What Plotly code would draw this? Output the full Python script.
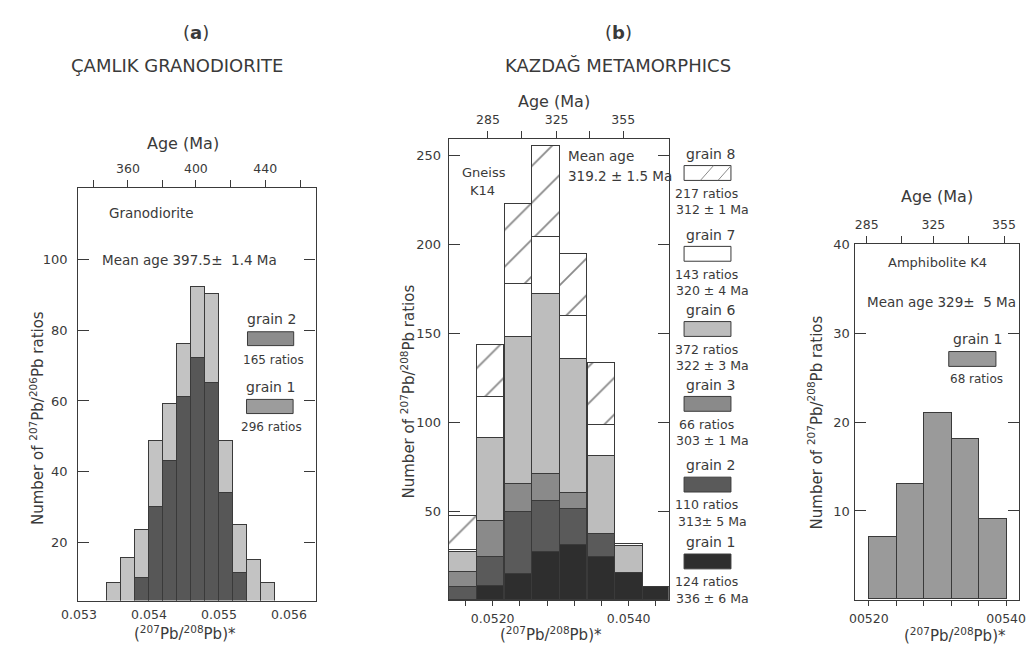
import plotly.graph_objects as go

W, H = 1029, 648

# ---------------- data ----------------
# Panel (a) Camlik granodiorite
a_bin_left = [0.0534, 0.0536, 0.0538, 0.0540, 0.0542, 0.0544, 0.0546, 0.0548, 0.0550, 0.0552, 0.0554, 0.0556]
a_bin_width = 0.0002
a_grain2 = [0, 0, 10, 30, 43, 61, 72, 65, 34, 11.5, 0, 0]
a_grain1 = [8.5, 15.5, 13.5, 18.5, 16, 15, 20, 25, 14.5, 13.5, 15, 8.5]
a_ytick = [20, 40, 60, 80, 100]
a_xtick = [0.053, 0.054, 0.055, 0.056]
a_xtick_text = ["0.053", "0.054", "0.055", "0.056"]
a_age_tickvals = [0.05321, 0.05370, 0.05419, 0.05467, 0.05517, 0.05566, 0.05616]
a_age_ticktext = ["", "360", "", "400", "", "440", ""]

# Panel (b) Kazdag gneiss K14
b_bin_left = [0.05135, 0.05176, 0.05217, 0.05258, 0.05298, 0.05339, 0.05380, 0.05421]
b_bin_width = 0.000408
b_grain1 = [0, 8, 14.5, 27.2, 31, 24.5, 15.2, 7.5]
b_grain2 = [7.6, 16.5, 34.8, 28.8, 20.5, 12.5, 0, 0]
b_grain3 = [8.1, 20, 15.9, 15.2, 8.7, 0, 0, 0]
b_grain6 = [11.3, 46.5, 82.5, 101.1, 75.4, 43.8, 15.3, 0]
b_grain7 = [1, 23, 30.1, 31.7, 24.1, 17.9, 1.2, 0]
b_grain8 = [19.6, 29.6, 45.1, 51.2, 34.9, 34.5, 0, 0]
b_ytick = [50, 100, 150, 200, 250]
b_xtick = [0.0516, 0.0520, 0.0524, 0.0528, 0.0532, 0.0536, 0.0540, 0.0544]
b_xtick_text = ["", "0.0520", "", "", "", "", "0.0540", ""]
b_age_tickvals = [0.05193, 0.05243, 0.05294, 0.05342, 0.05392]
b_age_ticktext = ["285", "", "325", "", "355"]
b_legend = [
    ("grain 8", "217 ratios", "312 \u00b1 1 Ma"),
    ("grain 7", "143 ratios", "320 \u00b1 4 Ma"),
    ("grain 6", "372 ratios", "322 \u00b1 3 Ma"),
    ("grain 3", "66 ratios", "303 \u00b1 1 Ma"),
    ("grain 2", "110 ratios", "313\u00b1 5 Ma"),
    ("grain 1", "124 ratios", "336 \u00b1 6 Ma"),
]

# Panel (c) Amphibolite K4
c_bin_left = [0.0520, 0.0524, 0.0528, 0.0532, 0.0536]
c_bin_width = 0.0004
c_grain1 = [7, 13, 21, 18, 9]
c_ytick = [10, 20, 30, 40]
c_xtick = [0.0520, 0.0524, 0.0528, 0.0532, 0.0536, 0.0540]
c_xtick_text = ["00520", "", "", "", "", "00540"]
c_age_tickvals = [0.05197, 0.05247, 0.05294, 0.05345, 0.05397]
c_age_ticktext = ["285", "", "325", "", "355"]

# ---------------- style ----------------
FONT = "DejaVu Sans"
TXT = "#3a3a3a"
LINE = "#3a3a3a"
C_G1 = "#2e2e2e"
C_G2 = "#5a5a5a"
C_G3 = "#8a8a8a"
C_G6 = "#bdbdbd"
C_ALIGHT = "#c3c3c3"
C_ADARK = "#575757"
C_C = "#9a9a9a"


def px(x, y):
    return x / W, 1 - y / H


def centers(lefts, w):
    return [l + w / 2 for l in lefts]


def nz(v):
    return [None if a == 0 else a for a in v]


fig = go.Figure()

bar_line = dict(color=LINE, width=1)

# panel a
ax = centers(a_bin_left, a_bin_width)
fig.add_trace(go.Bar(x=ax, y=nz(a_grain2), width=a_bin_width, xaxis="x", yaxis="y",
                     marker=dict(color=C_ADARK, line=bar_line), showlegend=False, hoverinfo="skip"))
fig.add_trace(go.Bar(x=ax, y=nz(a_grain1), width=a_bin_width, xaxis="x", yaxis="y",
                     marker=dict(color=C_ALIGHT, line=bar_line), showlegend=False, hoverinfo="skip"))
fig.add_trace(go.Scatter(x=[a_age_tickvals[0]], y=[50], xaxis="x2", yaxis="y", mode="markers",
                         marker=dict(opacity=0), showlegend=False, hoverinfo="skip"))

# panel b
bx = centers(b_bin_left, b_bin_width)
for vals, col in [(b_grain1, C_G1), (b_grain2, C_G2), (b_grain3, C_G3), (b_grain6, C_G6), (b_grain7, "#ffffff")]:
    fig.add_trace(go.Bar(x=bx, y=nz(vals), width=b_bin_width, xaxis="x3", yaxis="y3",
                         marker=dict(color=col, line=bar_line), showlegend=False, hoverinfo="skip"))
fig.add_trace(go.Bar(x=bx, y=nz(b_grain8), width=b_bin_width, xaxis="x3", yaxis="y3",
                     marker=dict(color="#ffffff", line=bar_line,
                                 pattern=dict(shape="/", fgcolor="#8a8a8a", bgcolor="#ffffff",
                                              size=26, solidity=0.07, fillmode="replace")),
                     showlegend=False, hoverinfo="skip"))
fig.add_trace(go.Scatter(x=[b_age_tickvals[0]], y=[50], xaxis="x4", yaxis="y3", mode="markers",
                         marker=dict(opacity=0), showlegend=False, hoverinfo="skip"))

# panel c
cx = centers(c_bin_left, c_bin_width)
fig.add_trace(go.Bar(x=cx, y=c_grain1, width=c_bin_width, xaxis="x5", yaxis="y5",
                     marker=dict(color=C_C, line=bar_line), showlegend=False, hoverinfo="skip"))
fig.add_trace(go.Scatter(x=[c_age_tickvals[0]], y=[5], xaxis="x6", yaxis="y5", mode="markers",
                         marker=dict(opacity=0), showlegend=False, hoverinfo="skip"))

tickfont = dict(family=FONT, size=12.5, color=TXT)


def xbottom(dom, rng, tv, tt, ticks):
    return dict(domain=dom, range=rng, tickvals=tv, ticktext=tt, ticks=ticks, ticklen=5,
                tickcolor=LINE, showline=True, linecolor=LINE, linewidth=1.2, mirror=True,
                showgrid=False, zeroline=False, tickfont=tickfont, ticklabelstandoff=2,
                ticklabeloverflow="allow")


def xtop(over, anchor, rng, tv, tt):
    return dict(overlaying=over, anchor=anchor, side="top", range=rng, tickvals=tv, ticktext=tt,
                ticks="outside", ticklen=7, tickcolor=LINE, showline=False, showgrid=False,
                zeroline=False, tickfont=tickfont, ticklabelstandoff=2, ticklabeloverflow="allow")


def yax(dom, rng, tv, standoff, anchor):
    return dict(domain=dom, range=rng, tickvals=tv, ticks="inside", ticklen=11, tickcolor=LINE,
                showline=True, linecolor=LINE, linewidth=1.2, mirror="ticks", showgrid=False,
                zeroline=False, tickfont=dict(family=FONT, size=13, color=TXT),
                ticklabelstandoff=standoff, anchor=anchor)


a_xdom = [62.7 / W, 305.7 / W]
a_ydom = [1 - 600 / H, 1 - 183.3 / H]
b_xdom = [442 / W, 667.3 / W]
b_ydom = [1 - 599.5 / H, 1 - 133.3 / H]
c_xdom = [857.5 / W, 1026 / W]
c_ydom = [1 - 599.3 / H, 1 - 240 / H]

a_xr = [0.05299, 0.05638]
b_xr = [0.051353, 0.054589]
c_xr = [0.051791, 0.054189]

fig.update_layout(
    width=W, height=H, margin=dict(l=0, r=0, t=0, b=0),
    paper_bgcolor="white", plot_bgcolor="white", barmode="stack", bargap=0,
    showlegend=False,
    font=dict(family=FONT, color=TXT),
    xaxis=xbottom(a_xdom, a_xr, a_xtick, a_xtick_text, ""),
    yaxis=yax(a_ydom, [3.7, 120], a_ytick, 7, "x"),
    xaxis2=xtop("x", "y", a_xr, a_age_tickvals, a_age_ticktext),
    xaxis3=xbottom(b_xdom, b_xr, b_xtick, b_xtick_text, "outside"),
    yaxis3=yax(b_ydom, [0, 259.3], b_ytick, 4, "x3"),
    xaxis4=xtop("x3", "y3", b_xr, b_age_tickvals, b_age_ticktext),
    xaxis5=xbottom(c_xdom, c_xr, c_xtick, c_xtick_text, "outside"),
    yaxis5=yax(c_ydom, [0, 40], c_ytick, 1, "x5"),
    xaxis6=xtop("x5", "y5", c_xr, c_age_tickvals, c_age_ticktext),
)
fig.layout.xaxis.anchor = "y"
fig.layout.xaxis3.anchor = "y3"
fig.layout.xaxis5.anchor = "y5"

annotations = []


def ann(text, x, y, size=13, xanchor="center", angle=0, **kw):
    xp, yp = px(x, y)
    annotations.append(dict(text=text, x=xp, y=yp, xref="paper", yref="paper", showarrow=False,
                            xanchor=xanchor, yanchor="middle", textangle=angle,
                            font=dict(family=FONT, size=size, color=TXT), **kw))


shapes = []


def box(x0, y0, x1, y1, color):
    a0 = px(x0, y0)
    a1 = px(x1, y1)
    shapes.append(dict(type="rect", xref="paper", yref="paper", x0=a0[0], y0=a0[1], x1=a1[0], y1=a1[1],
                       fillcolor=color, line=dict(color=LINE, width=1)))


def seg(x0, y0, x1, y1, color="#8a8a8a"):
    a0 = px(x0, y0)
    a1 = px(x1, y1)
    shapes.append(dict(type="line", xref="paper", yref="paper", x0=a0[0], y0=a0[1], x1=a1[0], y1=a1[1],
                       line=dict(color=color, width=1)))


ytitle_a = "Number of <sup>207</sup>Pb/<sup>206</sup>Pb ratios"
ytitle_b = "Number of <sup>207</sup>Pb/<sup>208</sup>Pb ratios"
xtitle = "(<sup>207</sup>Pb/<sup>208</sup>Pb)*"

# titles
ann("(<b>a</b>)", 183, 26, 18)
ann("\u00c7AMLIK GRANODIORITE", 164, 59, 18)
ann("(<b>b</b>)", 616, 26, 18)
ann("KAZDA\u011e METAMORPHICS", 615, 59, 18)

# panel a texts
ann("Age (Ma)", 170, 138, 16)
ann(ytitle_a, 20, 416, 15, angle=-90)
ann(xtitle, 172, 633, 15)
ann("Granodiorite", 138, 208, 13.5)
ann("Mean age 397.5\u00b1  1.4 Ma", 177, 256, 13.5)
ann("grain 2", 261, 315, 14)
box(236, 328.3, 283.3, 342.3, "#8c8c8c")
ann("165 ratios", 262.5, 357, 12)
ann("grain 1", 260, 384, 14)
box(235, 396.7, 282.7, 411, "#9c9c9c")
ann("296 ratios", 261, 425, 12)

# panel b texts
ann("Age (Ma)", 550, 96, 16)
ann(ytitle_b, 400, 389, 15, angle=-90)
ann(xtitle, 547, 634, 15)
ann("Gneiss", 478, 167, 13)
ann("K14", 477, 186, 13)
ann("Mean age", 562, 151, 13.5, xanchor="left")
ann("319.2 \u00b1 1.5 Ma", 562, 171, 13.5, xanchor="left")

leg_y = [148.3, 230, 306, 381.7, 463.3, 541]
leg_fill = ["#ffffff", "#ffffff", C_G6, C_G3, C_G2, C_G1]
for (g, r, m), y0, fill in zip(b_legend, leg_y, leg_fill):
    ann(g, 710, y0, 14)
    box(683, y0 + 12, 731, y0 + 27, fill)
    ann(r, 706, y0 + 40, 12.5)
    ann(m, 712, y0 + 56.5, 12.5)
# hatch in grain 8 swatch
seg(700, 175, 713, 160.5)
seg(718, 175, 731, 160.5)

# panel c texts
ann("Age (Ma)", 942, 192, 16)
ann(ytitle_b, 818, 420, 15, angle=-90)
ann(xtitle, 960, 635, 15)
ann("Amphibolite K4", 942.5, 258, 13)
ann("Mean age 329\u00b1  5 Ma", 947, 298, 13.5)
ann("grain 1", 983, 336, 14)
box(954, 348.3, 1002.3, 363.3, C_C)
ann("68 ratios", 982, 376, 12)

fig.update_layout(annotations=annotations, shapes=shapes)

fig.write_html(
    "out.html",
    config={"displayModeBar": False},
    post_script="document.body.style.margin='0';document.body.style.overflow='hidden';"
                "document.documentElement.style.overflow='hidden';",
)
